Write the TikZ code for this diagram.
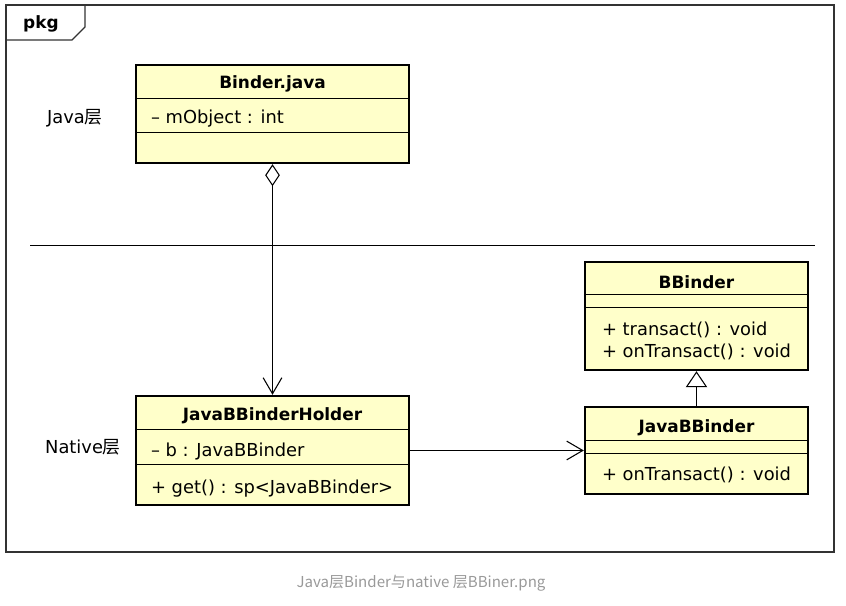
\documentclass[tikz,border=0pt]{standalone}
\usepackage{fontspec}
\setmainfont{DejaVu Sans}
\newfontfamily\cjkfont{Noto Sans CJK SC}
\usetikzlibrary{arrows.meta, positioning, calc}
\definecolor{umlyellow}{HTML}{FFFFCA}
\definecolor{capgray}{HTML}{999999}
\definecolor{framegray}{HTML}{333333}

\begin{document}
\begin{tikzpicture}[
    x=0.75pt, y=-0.75pt,
    cls/.style={draw=black, line width=1.8pt, fill=umlyellow, inner sep=0pt},
    title/.style={font=\fontsize{12.7}{15}\selectfont\bfseries, inner sep=0pt},
    member/.style={font=\fontsize{13.4}{15}\selectfont, anchor=west, inner sep=0pt},
    sep/.style={line width=0.8pt},
    layer/.style={font=\fontsize{13.4}{15}\selectfont, inner sep=0pt},
    arr/.style={-{Straight Barb[length=12pt, width=14pt]}, line width=0.8pt},
]
    \useasboundingbox (0,0) rectangle (846,606);

    % Package frame
    \draw[framegray, line width=0.8pt] (6,5) rectangle (834,552);
    \draw[framegray, line width=0.8pt] (6,40) -- (72,40) -- (85,27) -- (85,5);
    \node[title] (pkg) at (41,24) {pkg};

    % Layer split
    \draw[line width=0.7pt] (30,245) -- (815,245);
    \node[layer] (javalayer) at (75,118) {Java\cjkfont 层};
    \node[layer] (nativelayer) at (83,447) {Native\cjkfont 层};

    % Binder.java
    \node[cls, minimum width=204.75pt, minimum height=73.5pt] (binder) at (272.5,114) {};
    \node[title] at ($(binder.north)+(0,20)$) {Binder.java};
    \draw[sep] ($(binder.north west)+(0,35)$) -- ($(binder.north east)+(0,35)$);
    \node[member] at ($(binder.north west)+(16,55)$) {– mObject : int};
    \draw[sep] ($(binder.north west)+(0,69)$) -- ($(binder.north east)+(0,69)$);

    % JavaBBinderHolder
    \node[cls, minimum width=204.75pt, minimum height=81.75pt] (holder) at (272.5,450.5) {};
    \node[title] at ($(holder.north)+(0,21)$) {JavaBBinderHolder};
    \draw[sep] ($(holder.north west)+(0,35)$) -- ($(holder.north east)+(0,35)$);
    \node[member] at ($(holder.north west)+(16,57)$) {– b : JavaBBinder};
    \draw[sep] ($(holder.north west)+(0,70)$) -- ($(holder.north east)+(0,70)$);
    \node[member] at ($(holder.north west)+(16,94)$) {+ get() : sp<JavaBBinder>};

    % BBinder
    \node[cls, minimum width=167.25pt, minimum height=81pt] (bbinder) at (696.5,316) {};
    \node[title] at ($(bbinder.north)+(0,21)$) {BBinder};
    \draw[sep] ($(bbinder.north west)+(0,34)$) -- ($(bbinder.north east)+(0,34)$);
    \draw[sep] ($(bbinder.north west)+(0,47)$) -- ($(bbinder.north east)+(0,47)$);
    \node[member] at ($(bbinder.north west)+(18,69)$) {+ transact() : void};
    \node[member] at ($(bbinder.north west)+(18,91)$) {+ onTransact() : void};

    % JavaBBinder
    \node[cls, minimum width=167.25pt, minimum height=65.25pt] (jbb) at (696.5,450.5) {};
    \node[title] at ($(jbb.north)+(0,22)$) {JavaBBinder};
    \draw[sep] ($(jbb.north west)+(0,35)$) -- ($(jbb.north east)+(0,35)$);
    \draw[sep] ($(jbb.north west)+(0,48)$) -- ($(jbb.north east)+(0,48)$);
    \node[member] at ($(jbb.north west)+(18,69)$) {+ onTransact() : void};

    % Relations
    \draw[{Diamond[open, length=16.5pt, width=11pt]}-{Straight Barb[length=12pt, width=14pt]}, line width=0.8pt] (binder) -- (holder);
    \draw[arr] (holder) -- (jbb);
    \draw[-{Triangle[open, length=12pt, width=16pt]}, line width=0.8pt] (jbb) -- (bbinder);

    % Caption
    \node[font=\cjkfont\fontsize{11.3}{13}\selectfont, text=capgray, inner sep=0pt] (caption) at (421,583) {Java层Binder与native 层BBiner.png};
\end{tikzpicture}
\end{document}
